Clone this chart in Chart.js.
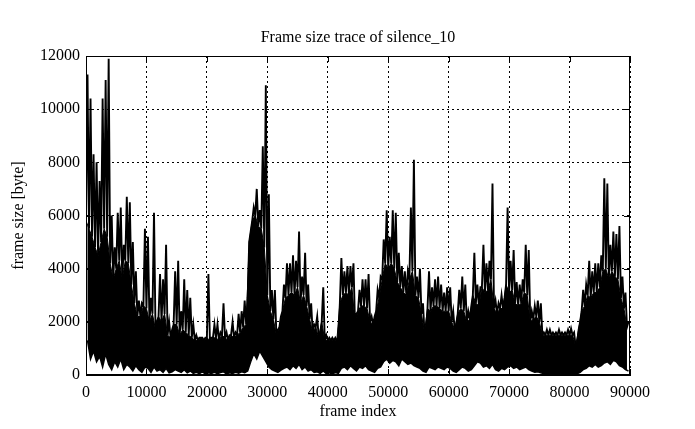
<!DOCTYPE html>
<html>
<head>
<meta charset="utf-8">
<title>Frame size trace of silence_10</title>
<script src="https://cdn.jsdelivr.net/npm/chart.js@4.4.1/dist/chart.umd.min.js"></script>
<style>
  html, body { margin: 0; padding: 0; background: #fff; }
  canvas { display: block; }
</style>
</head>
<body>
<canvas id="trace" width="695" height="429"></canvas>
<script>
const BIN = 500;

const peakSize = [
  11300, 10400, 8300, 8000, 7300, 10400, 11100, 11900, 6000, 4800,
  6100, 6300, 4900, 6700, 6500, 5000, 3900, 2800, 2700, 5500,
  5200, 2900, 6100, 2000, 3800, 3600, 4900, 2000, 1700, 3900,
  4300, 2400, 3600, 3200, 2900, 1900, 1500, 1400, 1400, 1400,
  3800, 1400, 1900, 1900, 1600, 2700, 1600, 1500, 2000, 1600,
  2300, 2400, 2800, 2900, 5400, 6300, 7000, 6200, 8600, 10900,
  6800, 3200, 3200, 1700, 2200, 3400, 4200, 4200, 4500, 4300,
  5400, 3700, 4600, 3400, 2700, 1900, 2200, 1600, 3300, 1500,
  1400, 1400, 1400, 1400, 4400, 3900, 4100, 4100, 4200, 2300,
  3200, 3600, 3600, 3800, 2200, 2200, 3200, 3700, 5100, 6200,
  5200, 6200, 6100, 4600, 4100, 3900, 3900, 6300, 8100, 3700,
  4000, 2700, 1700, 3900, 3300, 3600, 3700, 3400, 3100, 3300,
  3300, 2400, 1900, 3200, 3700, 3400, 2400, 2600, 4600, 3400,
  3300, 4900, 4200, 4300, 7200, 2800, 2700, 3000, 2900, 6300,
  4300, 4700, 3500, 3400, 3600, 4900, 4700, 2400, 2600, 2800,
  2700, 1600, 1700, 1700, 1600, 1600, 1700, 1600, 1600, 1700,
  1750, 1600, 1200, 2000, 3200, 3400, 4300, 3900, 4200, 4200,
  4500, 7400, 7200, 4900, 5400, 5300, 5600, 3700, 3100, 2000
];

const floorSize = [
  5800, 5500, 5200, 4800, 4500, 5000, 5500, 5200, 4200, 3600,
  4000, 4300, 3600, 4300, 4200, 3400, 2700, 2200, 2200, 2600,
  2500, 2000, 2300, 1700, 2200, 2000, 2300, 1500, 1400, 1900,
  1900, 1500, 1700, 1600, 1500, 1400, 1300, 1300, 1400, 1300,
  1400, 1300, 1400, 1400, 1300, 1500, 1400, 1300, 1500, 1400,
  1500, 1600, 1800, 1900, 5000, 5800, 6000, 5600, 5500, 4800,
  3000, 2400, 2100, 1500, 1800, 2400, 2900, 3000, 3100, 3000,
  3300, 2700, 3000, 2600, 2100, 1600, 1800, 1400, 2000, 1300,
  1300, 1300, 1300, 1300, 2700, 3000, 3100, 3000, 3300, 2000,
  2400, 2600, 2600, 2500, 2000, 1900, 2400, 2900, 3600, 4200,
  4000, 4200, 4000, 3500, 3300, 3100, 3000, 3600, 3900, 3000,
  2900, 2300, 1600, 2500, 2400, 2600, 2600, 2500, 2400, 2400,
  2400, 2000, 1700, 2300, 2500, 2400, 2000, 2100, 3000, 2700,
  2600, 3300, 3100, 3200, 3600, 2500, 2300, 2500, 2500, 3400,
  3100, 3200, 2700, 2600, 2700, 3100, 3000, 2000, 2100, 2200,
  2000, 1500, 1500, 1500, 1500, 1500, 1500, 1500, 1500, 1500,
  1500, 1500, 1100, 1700, 2400, 2600, 3000, 2900, 3100, 3100,
  3300, 3900, 4000, 3600, 3900, 3700, 3600, 2900, 2500, 1800
];

const lowSize = [
  1300, 600, 900, 500, 700, 300, 800, 400, 200, 500,
  300, 600, 200, 400, 300, 150, 350, 200, 100, 300,
  250, 100, 300, 150, 200, 100, 250, 80, 120, 200,
  150, 100, 200, 80, 150, 60, 100, 50, 120, 40,
  80, 60, 100, 50, 90, 120, 40, 80, 60, 100,
  70, 120, 90, 150, 500, 800, 600, 900, 700, 500,
  300, 200, 150, 100, 180, 250, 300, 200, 350, 250,
  400, 200, 300, 150, 200, 100, 120, 60, 150, 50,
  80, 40, 90, 60, 250, 300, 200, 350, 250, 150,
  300, 250, 350, 200, 150, 100, 250, 300, 500, 600,
  450, 550, 500, 350, 600, 500, 400, 450, 350, 300,
  250, 150, 100, 300, 250, 200, 300, 250, 200, 300,
  250, 150, 100, 200, 300, 250, 150, 200, 350, 500,
  450, 300, 350, 250, 400, 200, 150, 250, 200, 300,
  350, 250, 300, 200, 250, 300, 200, 150, 100, 120,
  80, 50, 60, 40, 70, 50, 60, 30, 50, 60,
  40, 70, 50, 100, 200, 250, 350, 300, 400, 300,
  350, 450, 500, 400, 550, 500, 350, 300, 200, 150
];

const xTicks = [0, 10000, 20000, 30000, 40000, 50000, 60000, 70000, 80000, 90000];
const yTicks = [0, 2000, 4000, 6000, 8000, 10000, 12000];
const chartTitle = 'Frame size trace of silence_10';

const font = { family: "'Liberation Serif', 'Times New Roman', serif", size: 16 };

// spikes: solid-mass top at bin start, peak in the middle of the bin
const spikes = [];
peakSize.forEach((hi, i) => {
  spikes.push({ x: i * BIN, y: floorSize[i] });
  spikes.push({ x: i * BIN + BIN / 2, y: hi });
});
const floors = floorSize.map((v, i) => ({ x: i * BIN, y: v }));
const lows = lowSize.map((v, i) => ({ x: i * BIN + BIN / 2, y: v }));

// title over the plot, solid frame and short inward ticks, gnuplot style
const framePlugin = {
  id: 'frame',
  afterDatasetsDraw(chart) {
    const { ctx, chartArea: a, scales } = chart;
    ctx.save();
    ctx.strokeStyle = '#000';
    ctx.lineWidth = 1;
    ctx.beginPath();
    scales.x.ticks.forEach(t => {
      const px = Math.round(scales.x.getPixelForValue(t.value)) + 0.5;
      ctx.moveTo(px, a.bottom); ctx.lineTo(px, a.bottom - 6);
      ctx.moveTo(px, a.top); ctx.lineTo(px, a.top + 6);
    });
    scales.y.ticks.forEach(t => {
      const py = Math.round(scales.y.getPixelForValue(t.value)) + 0.5;
      ctx.moveTo(a.left, py); ctx.lineTo(a.left + 6, py);
      ctx.moveTo(a.right, py); ctx.lineTo(a.right - 6, py);
    });
    ctx.stroke();
    ctx.strokeRect(Math.round(a.left) + 0.5, Math.round(a.top) + 0.5,
      Math.round(a.width) - 1, Math.round(a.height) - 1);
    ctx.fillStyle = '#000';
    ctx.font = `${font.size}px ${font.family}`;
    ctx.textAlign = 'center';
    ctx.textBaseline = 'middle';
    ctx.fillText(chartTitle, (a.left + a.right) / 2, a.top - 18);
    ctx.restore();
  }
};

new Chart(document.getElementById('trace'), {
  type: 'line',
  data: {
    datasets: [
      {
        label: 'silence_10',
        data: spikes,
        borderColor: '#000',
        borderWidth: 1.9,
        pointRadius: 0,
        tension: 0,
        fill: false
      },
      {
        label: 'body',
        data: floors,
        borderColor: '#000',
        backgroundColor: '#000',
        borderWidth: 1,
        pointRadius: 0,
        tension: 0,
        fill: '+1'
      },
      {
        label: 'low',
        data: lows,
        borderColor: '#000',
        borderWidth: 1.5,
        pointRadius: 0,
        tension: 0,
        fill: false
      }
    ]
  },
  options: {
    responsive: false,
    animation: false,
    layout: { padding: { left: 0, right: 65, top: 56, bottom: 0 } },
    plugins: {
      legend: { display: false },
      tooltip: { enabled: false },
      title: { display: false }
    },
    scales: {
      x: {
        type: 'linear',
        min: 0,
        max: 90000,
        afterBuildTicks: s => { s.ticks = xTicks.map(v => ({ value: v })); },
        afterFit: s => { s.height = 54; },
        ticks: { color: '#000', font, padding: 8, maxRotation: 0, callback: v => String(v) },
        grid: { color: '#000', lineWidth: 1, drawTicks: false },
        border: { display: true, color: '#000', dash: [2, 3] },
        title: { display: true, text: 'frame index', color: '#000', font, padding: { top: 0, bottom: 8 } }
      },
      y: {
        min: 0,
        max: 12000,
        afterBuildTicks: s => { s.ticks = yTicks.map(v => ({ value: v })); },
        afterFit: s => { s.width = 86; },
        ticks: { color: '#000', font, padding: 6, callback: v => String(v) },
        grid: { color: '#000', lineWidth: 1, drawTicks: false },
        border: { display: true, color: '#000', dash: [2, 3] },
        title: { display: true, text: 'frame size [byte]', color: '#000', font, padding: { top: 9, bottom: 0 } }
      }
    }
  },
  plugins: [framePlugin]
});
</script>
</body>
</html>
